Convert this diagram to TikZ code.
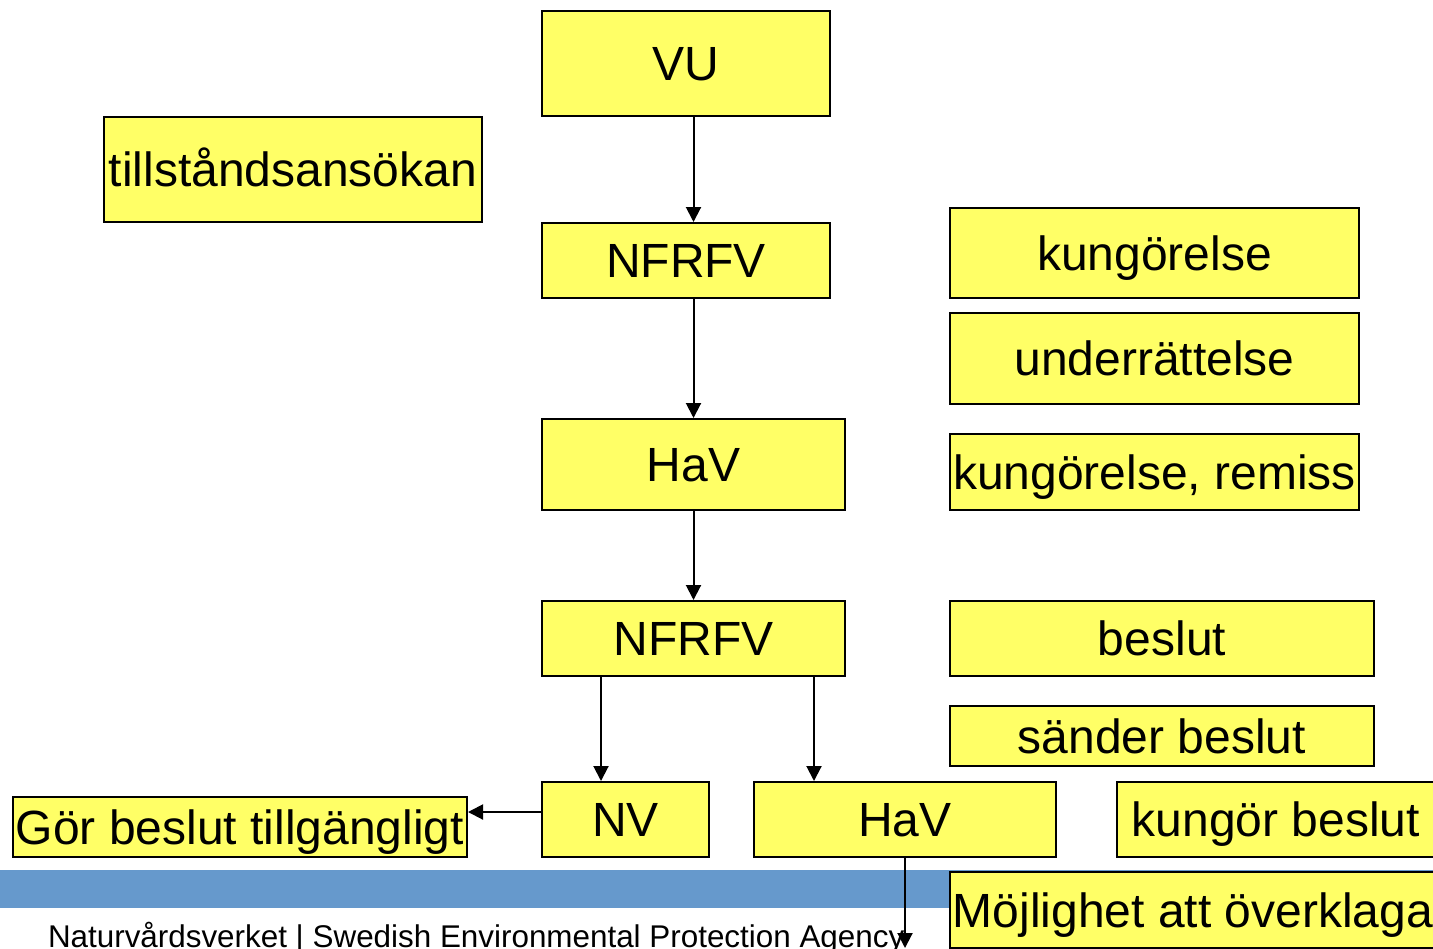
\documentclass[tikz,border=0pt]{standalone}
\usepackage{fontspec}
\setmainfont{Liberation Sans}
\usepackage{xcolor}
\usetikzlibrary{
arrows.meta,
shadows
}
\definecolor{boxyellow}{HTML}{FFFF66}
\definecolor{bandblue}{HTML}{6699CC}

\begin{document}
\begin{tikzpicture}[
    x=0.5pt, y=-0.5pt,
    >={Triangle[length=7.5pt,width=7.5pt]},
    every path/.style={line width=1pt},
    box/.style={draw, fill=boxyellow, inner sep=0pt,
      font=\fontsize{24pt}{28pt}\selectfont,
      text height=17.2pt, text depth=0pt,
      drop shadow={shadow xshift=0.7pt, shadow yshift=-0.7pt,
        fill=black, opacity=0.6}}]
  \useasboundingbox (0,0) rectangle (1433,948);
  % band and footer
  \fill[bandblue] (0,870) rectangle (1433,908);
  \node[anchor=base west, inner sep=0pt,
    font=\fontsize{15.7pt}{18pt}\selectfont] (footer) at (47,947)
    {Naturvårdsverket | Swedish Environmental Protection Agency};
  % left column
  \node[box, minimum width=144pt, minimum height=52.5pt] (VU) at (686,63.5) {VU};
  \node[box, minimum width=189pt, minimum height=52.5pt] (tillst) at (293,169.5) {tillståndsansökan};
  \node[box, minimum width=144pt, minimum height=37.5pt] (NFRFVa) at (686,260.5) {NFRFV};
  \node[box, minimum width=151.5pt, minimum height=45.5pt] (HaVa) at (693.5,464.5) {HaV};
  \node[box, minimum width=151.5pt, minimum height=37.5pt] (NFRFVb) at (693.5,638.5) {NFRFV};
  \node[box, minimum width=83.5pt, minimum height=37.5pt] (NV) at (625.5,819.5) {NV};
  \node[box, minimum width=151pt, minimum height=37.5pt] (HaVb) at (905,819.5) {HaV};
  \node[box, minimum width=227pt, minimum height=30pt] (goer) at (240,827) {Gör beslut tillgängligt};
  % right column
  \node[box, minimum width=204.5pt, minimum height=45pt] (kung) at (1154.5,253) {kungörelse};
  \node[box, minimum width=204.5pt, minimum height=45.5pt] (underr) at (1154.5,358.5) {underrättelse};
  \node[box, minimum width=204.5pt, minimum height=38pt] (remiss) at (1154.5,472) {kungörelse, remiss};
  \node[box, minimum width=212pt, minimum height=37.5pt] (beslut) at (1162,638.5) {beslut};
  \node[box, minimum width=212pt, minimum height=30pt] (saender) at (1162,736) {sänder beslut};
  \node[box, minimum width=159pt, minimum height=37.5pt] (kungb) at (1276,819.5) {kungör beslut};
  \node[box, minimum width=243pt, minimum height=38pt] (overkl) at (1193,910) {Möjlighet att överklaga};
  \coordinate (HaVend) at (905,948);
  % arrows
  \draw[->] (VU.south -| HaVa) -- (NFRFVa.north -| HaVa);
  \draw[->] (NFRFVa.south -| HaVa) -- (HaVa.north);
  \draw[->] (HaVa.south) -- (NFRFVb.north);
  \draw[->] ([xshift=30pt]NFRFVb.south west) -- ([xshift=30pt]NFRFVb.south west |- NV.north);
  \draw[->] ([xshift=136.5pt]NFRFVb.south west) -- ([xshift=136.5pt]NFRFVb.south west |- HaVb.north);
  \draw[->] ([yshift=3.75pt]NV.west) -- ([yshift=3.75pt]NV.west -| goer.east);
  \draw[->] (HaVb.south) -- (HaVend);
\end{tikzpicture}
\end{document}
